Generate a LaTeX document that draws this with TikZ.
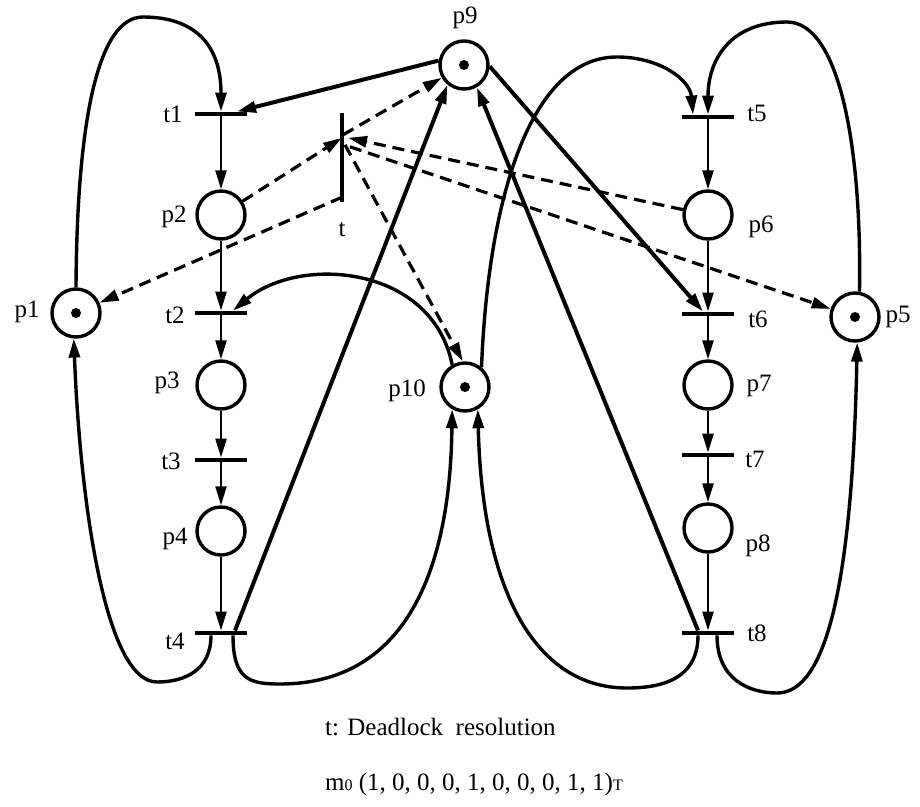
\documentclass[tikz,border=0pt]{standalone}
\usepackage{fontspec}
\setmainfont{Liberation Serif}
\usetikzlibrary{arrows.meta}
\begin{document}
\begin{tikzpicture}[x=1pt,y=-1pt,
  place/.style={circle, draw, line width=3.4pt, minimum size=48pt, inner sep=0pt},
  tok/.style={circle, fill=black, inner sep=0pt, minimum size=10pt},
  bar/.style={rectangle, fill=black, inner sep=0pt, minimum width=52pt, minimum height=4.5pt},
  vbar/.style={rectangle, fill=black, inner sep=0pt, minimum width=3.5pt, minimum height=89pt},
  lbl/.style={font=\fontsize{25}{29}\selectfont, inner sep=0pt},
  txt/.style={font=\fontsize{25}{29}\selectfont, inner sep=0pt},
  tip/.style={-{Triangle[length=19pt,width=11pt]}},
  flow/.style={tip, line width=2.4pt},
  arc/.style={tip, line width=3.4pt},
  heavy/.style={tip, line width=4pt},
  dsh/.style={tip, line width=3.2pt, dash pattern=on 12pt off 7pt}
]
\useasboundingbox (0,0) rectangle (920,806);
\fill[white] (0,0) rectangle (920,806);

% places
\node[place] (p1) at (76,313) {};
\node[place] (p2) at (221,215) {};
\node[place] (p3) at (221,385) {};
\node[place] (p4) at (221,531) {};
\node[place] (p5) at (855,317) {};
\node[place] (p6) at (708,215) {};
\node[place] (p7) at (708,385) {};
\node[place] (p8) at (708,528) {};
\node[place] (p9) at (464,65) {};
\node[place] (p10) at (465,387) {};

% initial marking
\node[tok] (m1) at (p1) {};
\node[tok] (m5) at (p5) {};
\node[tok] (m9) at (p9) {};
\node[tok] (m10) at (p10) {};

% transitions
\node[bar] (t1) at (221,114) {};
\node[bar] (t2) at (221,313) {};
\node[bar] (t3) at (221,460) {};
\node[bar] (t4) at (221,633) {};
\node[bar] (t5) at (708,117) {};
\node[bar] (t6) at (708,314) {};
\node[bar] (t7) at (708,455) {};
\node[bar] (t8) at (708,633) {};
\node[vbar] (tr) at (342,157.5) {};

% labels
\node[lbl] (lp1) at (27,312) {p1};
\node[lbl] (lp2) at (174,217) {p2};
\node[lbl] (lp3) at (167,383) {p3};
\node[lbl] (lp4) at (175,539) {p4};
\node[lbl] (lp5) at (898,317) {p5};
\node[lbl] (lp6) at (761,227) {p6};
\node[lbl] (lp7) at (759,386) {p7};
\node[lbl] (lp8) at (758,546) {p8};
\node[lbl] (lp9) at (465,18) {p9};
\node[lbl] (lp10) at (407,391) {p10};
\node[lbl] (lt1) at (173,114) {t1};
\node[lbl] (lt2) at (175,315) {t2};
\node[lbl] (lt3) at (171,461) {t3};
\node[lbl] (lt4) at (175,641) {t4};
\node[lbl] (lt5) at (757,113) {t5};
\node[lbl] (lt6) at (758,319) {t6};
\node[lbl] (lt7) at (755,459) {t7};
\node[lbl] (lt8) at (757,633) {t8};
\node[lbl] (ltr) at (342,230) {t};

% process 1 chain
\draw[flow] (t1) -- (p2);
\draw[flow] (p2) -- (t2);
\draw[flow] (t2) -- (p3);
\draw[flow] (p3) -- (t3);
\draw[flow] (t3) -- (p4);
\draw[flow] (p4) -- (t4);
% process 2 chain
\draw[flow] (t5) -- (p6);
\draw[flow] (p6) -- (t6);
\draw[flow] (t6) -- (p7);
\draw[flow] (p7) -- (t7);
\draw[flow] (t7) -- (p8);
\draw[flow] (p8) -- (t8);

% resource p9
\draw[heavy] (p9.170) -- ([xshift=16pt]t1.north);
\draw[heavy] ([xshift=14pt]t4.north) -- (p9.230);
\draw[heavy] ([xshift=-10pt]t8.north) -- (p9.300);
\draw[heavy] (p9.357) -- ([xshift=-5pt]t6.north);

% loops of p1, p5 and resource p10
\draw[arc] (p1.north) .. controls (77,120) and (98,17) .. (143,17)
  .. controls (195,17) and (221,45) .. (t1.north);
\draw[arc] ([xshift=-10pt]t4.south) .. controls (211,670) and (185,682) .. (157,682)
  .. controls (105,682) and (80,500) .. (p1.265);
\draw[arc] ([xshift=12pt]t4.south) .. controls (233,680) and (250,684) .. (280,684)
  .. controls (400,684) and (450,580) .. (p10.240);
\draw[arc] ([xshift=-10pt]t8.south) .. controls (698,680) and (660,688) .. (627,688)
  .. controls (535,688) and (482,590) .. (p10.300);
\draw[arc] ([xshift=9pt]t8.south) .. controls (717,680) and (750,693) .. (777,693)
  .. controls (825,693) and (852,590) .. (p5.275);
\draw[arc] (p5.80) .. controls (862,150) and (840,22) .. (787,22)
  .. controls (730,22) and (708,60) .. (t5.north);
\draw[arc] (p10.50) .. controls (488,200) and (530,57) .. (617,57)
  .. controls (660,57) and (690,80) .. ([xshift=-15pt]t5.north);
\draw[arc] (p10.120) .. controls (432,265) and (300,255) .. ([xshift=12pt]t2.north);

% deadlock resolution transition t
\coordinate (tin) at ([yshift=-25pt]tr.north);
\coordinate (tin2) at ([xshift=6pt,yshift=-25pt]tr.north);
\coordinate (tout9) at ([xshift=1pt,yshift=-22pt]tr.north);
\coordinate (tout10) at ([xshift=3pt,yshift=-32pt]tr.north);
\coordinate (tout5) at ([xshift=8pt,yshift=-34pt]tr.north);
\coordinate (tout1) at ([yshift=5pt]tr.south);
\draw[dsh] (p2) -- (tin);
\draw[dsh] (p6) -- (tin2);
\draw[dsh] (tout9) -- (p9);
\draw[dsh] (tout1) -- (p1);
\draw[dsh] (tout10) -- (p10.95);
\draw[dsh] (tout5) -- (p5);

% caption
\node[txt, anchor=base west] (cap1) at (325,735) {t: Deadlock\ \ resolution};
\node[txt, anchor=base west] (cap2) at (325,790)
  {m{\fontsize{16}{16}\selectfont 0} (1, 0, 0, 0, 1, 0, 0, 0, 1, 1){\fontsize{16}{16}\selectfont T}};
\end{tikzpicture}
\end{document}
